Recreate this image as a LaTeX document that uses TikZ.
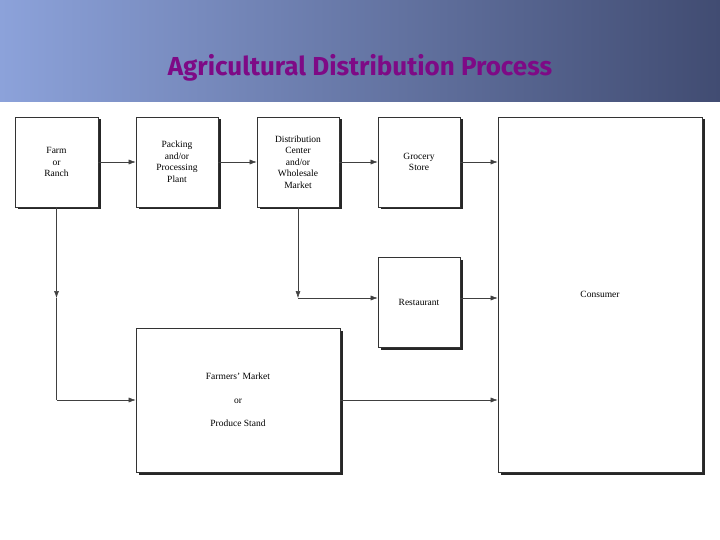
\documentclass[tikz,border=0pt]{standalone}
\usepackage{fontspec}
\setmainfont{Liberation Serif}
\newfontfamily\titlefont{Fira Sans}
\usetikzlibrary{arrows.meta,calc}
\definecolor{bandlight}{HTML}{8CA2DA}
\definecolor{banddark}{HTML}{414C72}
\definecolor{titlepurple}{HTML}{7E0A86}
\tikzset{
  stagebox/.style={draw=black!80,fill=white,line width=0.6pt,align=center,
    font=\fontsize{9.5}{11.5}\selectfont,
    drop shadow={shadow xshift=2.5pt,shadow yshift=-2.5pt,fill=black!85,opacity=1}},
  flow/.style={-{Latex[length=7pt,width=5pt]},line width=0.5pt,draw=black!75},
  plain/.style={line width=0.5pt,draw=black!75}
}
\usetikzlibrary{shadows}
\begin{document}
\begin{tikzpicture}[x=1pt,y=-1pt]
  \useasboundingbox (0,0) rectangle (720,540);
  % title band
  \shade[left color=bandlight,right color=banddark] (0,0) rectangle (720,102);
  \node[font=\titlefont\bfseries\fontsize{26}{30}\selectfont,text=titlepurple] (title) at (360,68) {Agricultural Distribution Process};
  % stages
  \node[stagebox,minimum width=83pt,minimum height=90pt] (farm) at (56.5,162) {Farm\\or\\Ranch};
  \node[stagebox,minimum width=82pt,minimum height=90pt] (pack) at (177,162) {Packing\\and/or\\Processing\\Plant};
  \node[stagebox,minimum width=82pt,minimum height=90pt] (dist) at (298,162) {Distribution\\Center\\and/or\\Wholesale\\Market};
  \node[stagebox,minimum width=82pt,minimum height=90pt] (grocery) at (419,162) {Grocery\\Store};
  \node[stagebox,minimum width=82pt,minimum height=90pt] (rest) at (419,302) {Restaurant};
  \node[stagebox,minimum width=204pt,minimum height=144pt] (market) at (238,400) {Farmers' Market\\[12pt]or\\[12pt]Produce Stand};
  \node[stagebox,minimum width=204pt,minimum height=355pt] (consumer) at (600,294.5) {Consumer};
  % corners
  \coordinate (farmmid) at (farm.south |- 0,298);
  \coordinate (farmlow) at (farm.south |- market.west);
  \coordinate (distlow) at (dist.south |- 0,298);
  % connectors
  \draw[flow] (farm) -- (pack);
  \draw[flow] (pack) -- (dist);
  \draw[flow] (dist) -- (grocery);
  \draw[flow] (grocery) -- (grocery -| consumer.west);
  \draw[flow] (farm.south) -- (farmmid);
  \draw[plain] (farmmid) -- (farmlow);
  \draw[flow] (farmlow) -- (market.west);
  \draw[flow] (dist.south) -- (distlow);
  \draw[flow] (distlow) -- (distlow -| rest.west);
  \draw[flow] (rest.east |- distlow) -- (distlow -| consumer.west);
  \draw[flow] (market) -- (market -| consumer.west);
\end{tikzpicture}
\end{document}
